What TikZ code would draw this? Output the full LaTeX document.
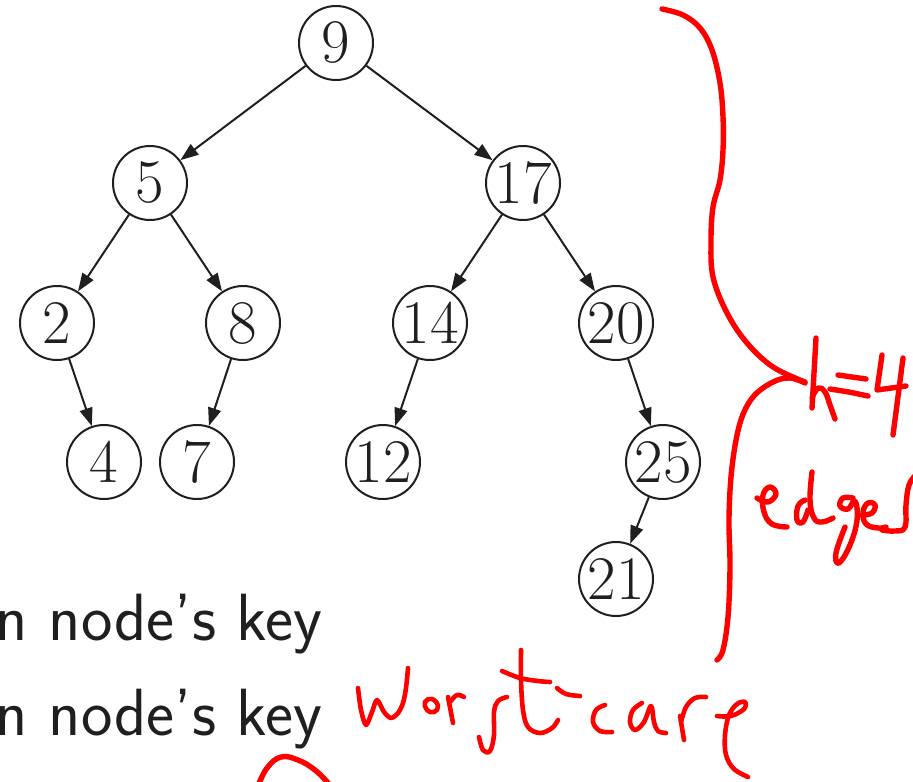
\documentclass[tikz,border=0pt]{standalone}
\usetikzlibrary{arrows.meta}
\begin{document}
\begin{tikzpicture}[x=0.5pt,y=-0.5pt,
  keynode/.style={circle,draw=black!88,line width=1pt,minimum size=37pt,inner sep=0pt,
    font=\fontsize{31}{37}\selectfont,text=black!88},
  child/.style={draw=black!88,line width=1pt,-{Stealth[length=9pt,width=6.5pt,inset=0pt]}},
  ink/.style={draw=red,line width=2.7pt,line cap=round,line join=round},
  thinink/.style={ink,line width=2.3pt},
  caption/.style={font=\sffamily\fontsize{33.4}{40}\selectfont,text=black!88,anchor=base east,inner sep=0pt}]
\useasboundingbox (0,0) rectangle (913,781);

% binary search tree
\node[keynode] (n9)  at (336,43)  {9};
\node[keynode] (n5)  at (150,183) {5};
\node[keynode] (n17) at (523,183) {17};
\node[keynode] (n2)  at (57,323)  {2};
\node[keynode] (n8)  at (243,323) {8};
\node[keynode] (n14) at (430,323) {14};
\node[keynode] (n20) at (616,323) {20};
\node[keynode] (n4)  at (104,462) {4};
\node[keynode] (n7)  at (197,462) {7};
\node[keynode] (n12) at (383,462) {12};
\node[keynode] (n25) at (663,462) {25};
\node[keynode] (n21) at (616,579) {21};

\draw[child] (n9) -- (n5);
\draw[child] (n9) -- (n17);
\draw[child] (n5) -- (n2);
\draw[child] (n5) -- (n8);
\draw[child] (n17) -- (n14);
\draw[child] (n17) -- (n20);
\draw[child] (n2) -- (n4);
\draw[child] (n8) -- (n7);
\draw[child] (n14) -- (n12);
\draw[child] (n20) -- (n25);
\draw[child] (n25) -- (n21);

% text lines
\node[caption] (l1) at (323,640) {n node's key};
\node[caption] (l2) at (323,735) {n node's key};

% hand-drawn brace
\draw[ink] plot[smooth,tension=0.6] coordinates {(662,9) (683,15) (700,28) (712,50) (720,83) (723,117)
  (723,150) (720,180) (713,207) (711,240) (713,277) (727,313) (747,343) (773,367) (805,382)};
\draw[ink] plot[smooth,tension=0.6] coordinates {(805,383) (790,378) (773,382) (753,397) (740,423)
  (732,467) (729,517) (730,567) (728,617) (723,650) (717,660)};

% h=4
\draw[ink] (816,338) -- (812,408);
\draw[ink] plot[smooth,tension=0.7] coordinates {(812,398) (818,388) (825,392) (830,405) (835,419)};
\draw[ink] (838,375) -- (866,379);
\draw[ink] (830,389) -- (849,392) -- (868,396);
\draw[ink] (882,355) -- (877,390) -- (906,386);
\draw[ink] (903,358) -- (893,435);

% edges
\draw[ink] plot[smooth,tension=0.7] coordinates {(757,498) (768,502) (776,494) (770,487) (763,495)
  (764,512) (772,524) (787,527)};
\draw[ink] plot[smooth,tension=0.7] coordinates {(805,500) (798,506) (797,520) (803,522) (808,510)};
\draw[ink] plot[smooth,tension=0.7] coordinates {(812,472) (810,500) (814,518) (822,522) (833,518)};
\draw[ink] plot[smooth,tension=0.7] coordinates {(853,498) (843,498) (840,506) (848,509) (855,501)
  (857,520) (850,545) (839,563) (836,553) (845,527)};
\draw[ink] plot[smooth,tension=0.7] coordinates {(862,515) (872,513) (875,505) (868,503) (863,512)
  (866,524) (878,528) (886,527)};
\draw[ink] plot[smooth,tension=0.7] coordinates {(882,530) (895,531) (905,527) (906,505) (909,485) (916,475)};

% worst-case
\draw[thinink] plot[smooth,tension=0.5] coordinates {(358,688) (361,710) (366,725) (372,712) (377,700)
  (384,712) (391,718) (398,713) (403,703) (406,688) (408,668)};
\draw[thinink] plot[smooth cycle,tension=0.8] coordinates {(425,702) (432,699) (438,706) (434,712) (427,710)};
\draw[thinink] (448,697) -- (453,723);
\draw[thinink] plot[smooth,tension=0.7] coordinates {(451,701) (457,695) (464,697)};
\draw[thinink] plot[smooth,tension=0.6] coordinates {(479,737) (483,750) (490,751) (494,735)
  (494,712) (498,701) (507,697)};
\draw[thinink] plot[smooth,tension=0.6] coordinates {(521,650) (521,680) (523,710) (528,727) (540,733)
  (552,728) (558,720)};
\draw[thinink] plot[smooth,tension=0.6] coordinates {(502,671) (520,678) (538,681) (550,682)};
\draw[thinink] plot[smooth,tension=0.6] coordinates {(557,688) (566,694) (580,696)};
\draw[thinink] plot[smooth,tension=0.6] coordinates {(605,705) (596,710) (593,722) (600,731) (612,732)};
\draw[thinink] plot[smooth,tension=0.6] coordinates {(642,703) (633,710) (630,722) (635,730) (644,722)
  (651,706) (654,722) (658,731) (666,733)};
\draw[thinink] (680,716) -- (684,740);
\draw[thinink] plot[smooth,tension=0.6] coordinates {(681,722) (686,707) (695,698) (706,697)};
\draw[thinink] plot[smooth,tension=0.6] coordinates {(717,716) (731,716) (744,709) (745,702) (737,704)
  (729,715) (725,735) (726,755) (734,769) (748,777)};

% small arc below
\draw[ink] plot[smooth,tension=0.7] coordinates {(258,786) (267,768) (281,757) (298,760) (315,770) (329,784)};
\end{tikzpicture}
\end{document}
